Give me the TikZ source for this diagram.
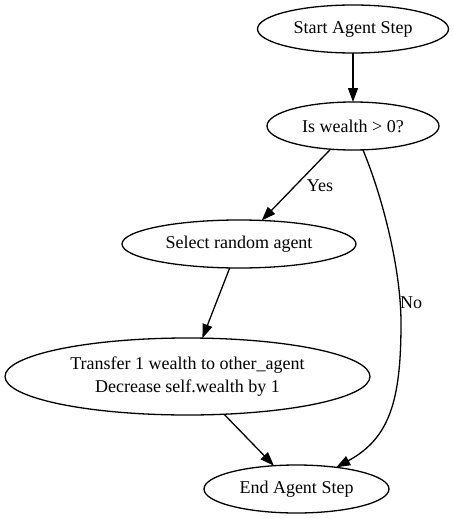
\documentclass[tikz,border=0pt]{standalone}
\usepackage{fontspec}
\setmainfont{Liberation Serif}
\usetikzlibrary{shapes.geometric,arrows.meta}
\begin{document}
\begin{tikzpicture}[x=1pt,y=-1pt,
  every node/.style={font=\fontsize{18}{22.7}\selectfont},
  st/.style={ellipse,draw,line width=1.3pt,inner sep=0pt,outer sep=0pt,align=center},
  edge/.style={draw,line width=1.3pt,-{Triangle[length=14pt,width=10pt]}},
  lbl/.style={inner sep=0pt}]
\useasboundingbox (0,0) rectangle (454,519);
\node[st,minimum width=191pt,minimum height=48pt] (start) at (353,29) {Start Agent Step};
\node[st,minimum width=172pt,minimum height=48pt] (is) at (353,126) {Is wealth > 0?};
\node[st,minimum width=234pt,minimum height=48pt] (sel) at (239,244) {Select random agent};
\node[st,minimum width=365pt,minimum height=77pt] (tr) at (187.5,376.5) {Transfer 1 wealth to other\_agent\\Decrease self.wealth by 1};
\node[st,minimum width=185pt,minimum height=48pt] (end) at (296.5,489) {End Agent Step};
\draw[edge] (start) -- (is);
\draw[edge] (is) -- (sel);
\draw[edge] (sel) -- (tr);
\draw[edge] (tr) -- (end);
\coordinate (mid) at (401,323);
\draw[line width=1.3pt] (is) .. controls (383,198) and (401,270) .. (mid);
\draw[edge] (mid) .. controls (401,400) and (390,438) .. (end);
\node[lbl] (yes) at (320,186) {Yes};
\node[lbl] (no) at (411,303) {No};
\end{tikzpicture}
\end{document}
